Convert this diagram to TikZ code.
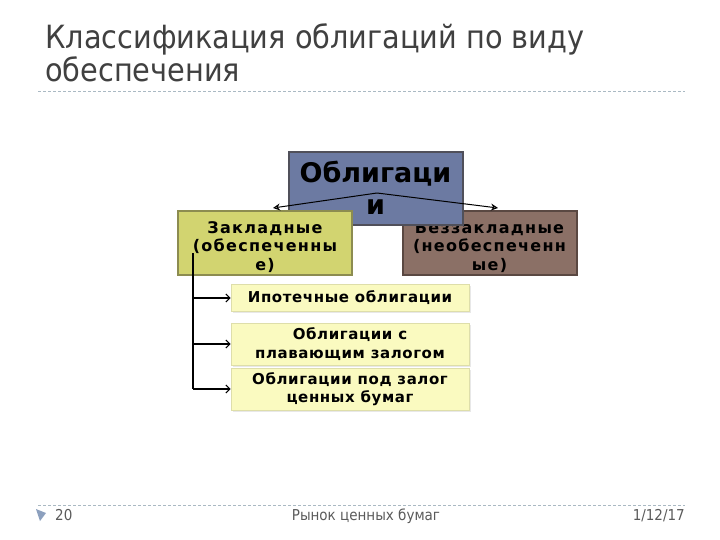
\documentclass[tikz,border=0pt]{standalone}
\usepackage{fontspec}
\setmainfont{DejaVu Sans}
\newfontfamily\condfont{DejaVu Sans Condensed}
\newfontfamily\spaced[LetterSpace=8]{DejaVu Sans}
\newfontfamily\spacedsm[LetterSpace=4]{DejaVu Sans}
\usetikzlibrary{arrows.meta,shadows}
\definecolor{oblfill}{RGB}{108,122,162}
\definecolor{oblline}{RGB}{80,80,90}
\definecolor{zfill}{RGB}{210,212,112}
\definecolor{zline}{RGB}{140,140,80}
\definecolor{bfill}{RGB}{139,112,102}
\definecolor{bline}{RGB}{90,72,66}
\definecolor{sfill}{RGB}{250,250,192}
\definecolor{sline}{RGB}{222,222,170}
\definecolor{rulec}{RGB}{170,185,195}
\definecolor{titlec}{RGB}{64,64,64}
\definecolor{footc}{RGB}{90,90,90}
\definecolor{trifill}{RGB}{140,160,190}
\tikzset{
  bigbox/.style={draw, line width=2pt, inner sep=0pt, minimum width=174pt, minimum height=64pt},
  bigtext/.style={inner sep=0pt, align=center, text=black,
    font=\spaced\fontsize{16}{18.5}\selectfont\bfseries},
  smallbox/.style={draw=sline, fill=sfill, line width=1pt, inner sep=0pt, align=center,
    font=\spacedsm\fontsize{15}{18.5}\selectfont\bfseries, minimum width=238pt,
    drop shadow={shadow xshift=1.5pt, shadow yshift=-1.5pt, fill=black!15, opacity=0.6}},
  conn/.style={line width=1pt, -{Stealth[open, length=7pt, width=7pt]}},
  arr/.style={line width=2.2pt, -{Straight Barb[length=4pt, width=8pt, line width=1pt]}},
  rule/.style={draw=rulec, dashed, dash pattern=on 3pt off 2pt, line width=0.8pt}
}
\begin{document}
\begin{tikzpicture}[x=1pt, y=-1pt]
\useasboundingbox (0,0) rectangle (720,540);
% title
\node[anchor=base west, inner sep=0pt, text=titlec, font=\condfont\fontsize{32}{36}\selectfont] (t1) at (45,49) {Классификация облигаций по виду};
\node[anchor=base west, inner sep=0pt, text=titlec, font=\condfont\fontsize{32}{36}\selectfont] (t2) at (45,82) {обеспечения};
\draw[rule] (38,91) -- (685,91);
\draw[rule] (38,505) -- (685,505);
% footer
\fill[trifill] (36,509) -- (46,513) -- (40,521) -- cycle;
\node[anchor=base west, inner sep=0pt, text=footc, font=\condfont\fontsize{15}{17}\selectfont] (f1) at (55,520) {20};
\node[anchor=base, inner sep=0pt, text=footc, font=\condfont\fontsize{15}{17}\selectfont] (f2) at (366,520) {Рынок ценных бумаг};
\node[anchor=base east, inner sep=0pt, text=footc, font=\condfont\fontsize{15}{17}\selectfont] (f3) at (685,520) {1/12/17};
% boxes
\node[bigbox, draw=bline, fill=bfill] (bz) at (489.5,243) {};
\node[bigtext] (bzt) at ([yshift=-4pt]bz.center) {Беззакладные\\(необеспеченн\\ые)};
\node[bigbox, draw=oblline, fill=oblfill, minimum height=73pt] (ob) at (375.5,189) {};
\node[bigtext, font=\fontsize{27}{32}\selectfont\bfseries] (obt) at ([yshift=1pt]ob.center) {Облигаци\\и};
\node[bigbox, draw=zline, fill=zfill] (zk) at (265,243) {};
\node[bigtext] (zkt) at ([yshift=-4pt]zk.center) {Закладные\\(обеспеченны\\е)};
% arrows from center
\coordinate (top) at (377,193);
\coordinate (lt) at (273,208);
\coordinate (rt) at (498,208);
\draw[conn] (top) -- (lt);
\draw[conn] (top) -- (rt);
% small boxes
\node[smallbox, minimum height=27pt] (s1) at (350,298) {Ипотечные облигации};
\node[smallbox, minimum height=42pt] (s2) at (350,344) {Облигации с\\плавающим залогом};
\node[smallbox, minimum height=42pt] (s3) at (350,389) {Облигации под залог\\ценных бумаг};
% tree connectors
\coordinate (vtop) at (193,253);
\coordinate (vbot) at (193,389);
\draw[line width=2.2pt] (vtop) -- (vbot);
\draw[arr] (193,298) -- (s1.west);
\draw[arr] (193,344) -- (s2.west);
\draw[arr] (vbot) -- (s3.west);
\end{tikzpicture}
\end{document}
